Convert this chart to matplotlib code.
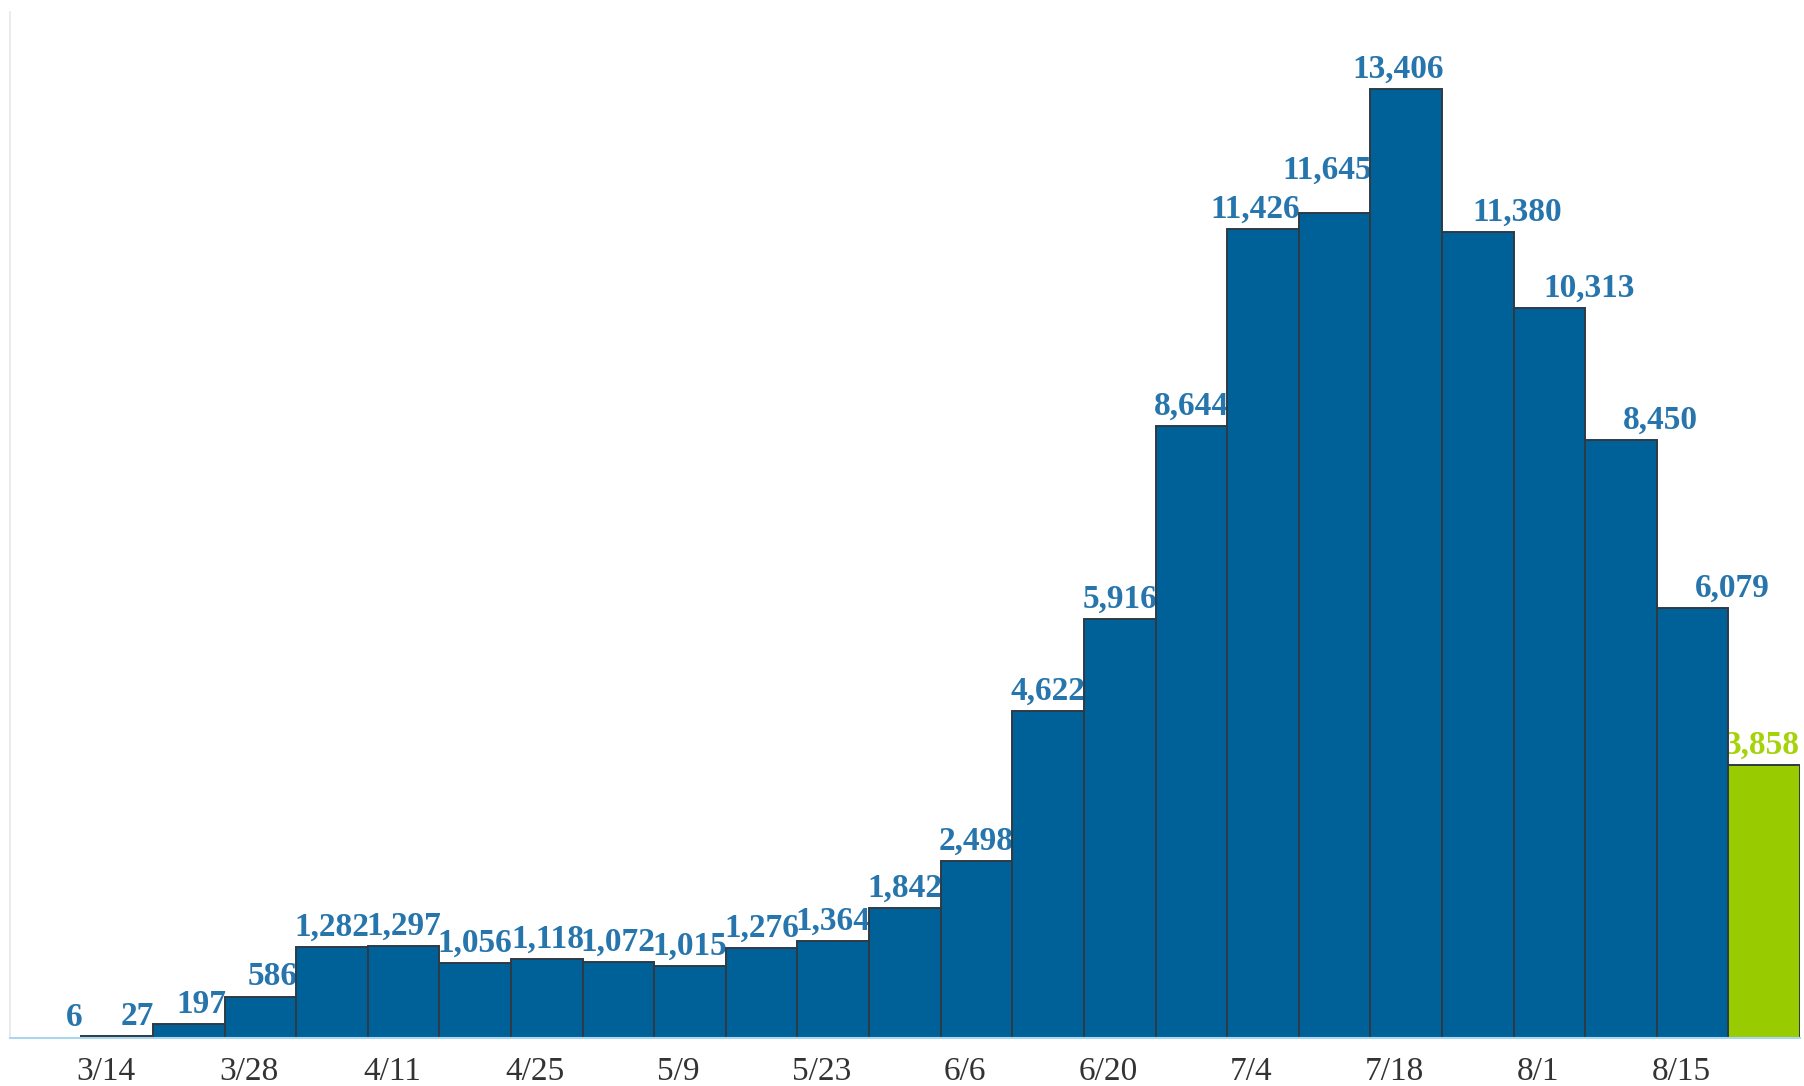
import matplotlib
matplotlib.use("Agg")
import matplotlib.pyplot as plt
import numpy as np

# ---- data ----
weeks = ["3/7", "3/14", "3/21", "3/28", "4/4", "4/11", "4/18", "4/25", "5/2", "5/9",
         "5/16", "5/23", "5/30", "6/6", "6/13", "6/20", "6/27", "7/4", "7/11", "7/18",
         "7/25", "8/1", "8/8", "8/15", "8/22"]
cases = [6, 27, 197, 586, 1282, 1297, 1056, 1118, 1072, 1015,
         1276, 1364, 1842, 2498, 4622, 5916, 8644, 11426, 11645, 13406,
         11380, 10313, 8450, 6079, 3858]
partial_week = [False] * 24 + [True]
tick_labels = ["3/14", "3/28", "4/11", "4/25", "5/9", "5/23", "6/6", "6/20",
               "7/4", "7/18", "8/1", "8/15"]

BLUE = "#006199"
GREEN = "#99cc00"
LABEL_BLUE = "#2675ac"
LABEL_GREEN = "#a6d20a"
EDGE = "#2e3a44"

plt.rcParams['font.family'] = ['Liberation Serif', 'DejaVu Serif']

DPI = 100
fig = plt.figure(figsize=(18.04, 10.86), dpi=DPI)
ax = fig.add_axes([0.0054, 0.0442, 0.9924, 0.9448])

x = np.arange(len(cases))
colors = [GREEN if p else BLUE for p in partial_week]
ax.bar(x, cases, width=1.0, color=colors, edgecolor=EDGE, linewidth=1.4, zorder=3)

n = len(cases)
texts = []
for i, (xi, v, p) in enumerate(zip(x, cases, partial_week)):
    drop = i > 0 and cases[i - 1] - v > 500
    if i == n - 1:
        ax_x, ha = xi + 0.5, "right"
    elif drop:
        ax_x, ha = xi + 0.55, "center"
    else:
        ax_x, ha = xi + 0.52, "right"
    t = ax.annotate(f"{v:,}", xy=(ax_x, v), xytext=(0, 3), textcoords="offset points",
                    ha=ha, va="bottom", fontsize=24, fontweight="bold",
                    color=LABEL_GREEN if p else LABEL_BLUE, zorder=2)
    texts.append(t)

ax.set_xlim(-0.5, n - 0.5)
ax.set_ylim(0, 14490)

tick_pos = [weeks.index(t) - 0.16 for t in tick_labels]
ax.set_xticks(tick_pos)
ax.set_xticklabels(tick_labels, fontsize=24, color="#333333")
ax.tick_params(axis="x", length=0, pad=13)
ax.set_yticks([])

for s in ["top", "right"]:
    ax.spines[s].set_visible(False)
ax.spines["bottom"].set_color("#a9d7ef")
ax.spines["bottom"].set_linewidth(1.5)
ax.spines["bottom"].set_zorder(4)
ax.spines["left"].set_color("#e6e6e6")
ax.spines["left"].set_linewidth(1.2)

# lift a label that clearly collides with the previous (lower) one
fig.canvas.draw()
r = fig.canvas.get_renderer()
for i in range(1, n):
    prev = texts[i - 1].get_window_extent(r)
    cur = texts[i].get_window_extent(r)
    h_overlap = min(prev.x1, cur.x1) - max(prev.x0, cur.x0)
    v_overlap = min(prev.y1, cur.y1) - max(prev.y0, cur.y0)
    if h_overlap > 8 and v_overlap > 0 and cases[i] > cases[i - 1]:
        lift_px = prev.y1 - cur.y0 + 8
        texts[i].xyann = (0, 3 + lift_px * 72.0 / DPI)

fig.savefig("out.png", dpi=DPI)
